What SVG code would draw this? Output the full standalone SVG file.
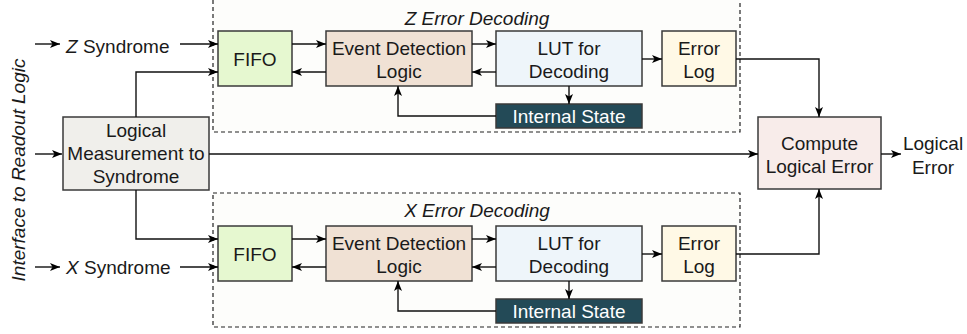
<svg xmlns="http://www.w3.org/2000/svg" width="967" height="334" viewBox="0 0 967 334">
<defs>
<marker id="ah" viewBox="0 0 10 8" refX="10" refY="4" markerWidth="10" markerHeight="8" markerUnits="userSpaceOnUse" orient="auto">
<path d="M0,0 L10,4 L0,8 L2.5,4 z" fill="#000"/>
</marker>
<style>
text{font-family:"Liberation Sans",Arial,sans-serif;font-size:19px;fill:#1a1a1a}
.c{text-anchor:middle}
.i{font-style:italic}
.box{stroke:#3a3a3a;stroke-width:1.5}
.grp{fill:#fdfdfb;stroke:#222;stroke-width:1.2;stroke-dasharray:4 3}
.ln{fill:none;stroke:#111;stroke-width:1.4}
.ar{fill:none;stroke:#111;stroke-width:1.4;marker-end:url(#ah)}
</style>
</defs>
<rect width="967" height="334" fill="#fff"/>

<g id="zgroup"><rect class="grp" x="213" y="-2" width="527" height="134"/><text class="c i" x="477" y="25">Z Error Decoding</text></g>
<g id="xgroup"><rect class="grp" x="213" y="193" width="527" height="134"/><text class="c i" x="477" y="217">X Error Decoding</text></g>

<g id="interface"><text class="c i" transform="translate(25,170) rotate(-90)">Interface to Readout Logic</text></g>
<g id="zsyn"><text x="66" y="53"><tspan font-style="italic">Z</tspan> Syndrome</text></g>
<g id="xsyn"><text x="66" y="274"><tspan font-style="italic">X</tspan> Syndrome</text></g>

<g id="lm"><rect class="box" x="63" y="117" width="146" height="73" fill="#f0efeb"/>
<text class="c" x="136" y="137">Logical</text><text class="c" x="136" y="160">Measurement to</text><text class="c" x="136" y="183">Syndrome</text></g>

<g id="zfifo"><rect class="box" x="218" y="31" width="74" height="55" fill="#e6f8d0"/><text class="c" x="255" y="66">FIFO</text></g>
<g id="zedl"><rect class="box" x="326" y="31" width="146" height="55" fill="#f0e1d4"/><text class="c" x="399" y="55">Event Detection</text><text class="c" x="399" y="78">Logic</text></g>
<g id="zlut"><rect class="box" x="496" y="31" width="146" height="55" fill="#eef5fa"/><text class="c" x="569" y="55">LUT for</text><text class="c" x="569" y="78">Decoding</text></g>
<g id="zlog"><rect class="box" x="662" y="31" width="74" height="55" fill="#fff9e6"/><text class="c" x="699" y="55">Error</text><text class="c" x="699" y="78">Log</text></g>
<g id="zstate"><rect class="box" x="496" y="104" width="146" height="24" fill="#234a57"/><text class="c" x="569" y="123" style="fill:#fff">Internal State</text></g>

<g id="xfifo"><rect class="box" x="218" y="226" width="74" height="55" fill="#e6f8d0"/><text class="c" x="255" y="261">FIFO</text></g>
<g id="xedl"><rect class="box" x="326" y="226" width="146" height="55" fill="#f0e1d4"/><text class="c" x="399" y="250">Event Detection</text><text class="c" x="399" y="273">Logic</text></g>
<g id="xlut"><rect class="box" x="496" y="226" width="146" height="55" fill="#eef5fa"/><text class="c" x="569" y="250">LUT for</text><text class="c" x="569" y="273">Decoding</text></g>
<g id="xlog"><rect class="box" x="662" y="226" width="74" height="55" fill="#fff9e6"/><text class="c" x="699" y="250">Error</text><text class="c" x="699" y="273">Log</text></g>
<g id="xstate"><rect class="box" x="496" y="299" width="146" height="24" fill="#234a57"/><text class="c" x="569" y="318" style="fill:#fff">Internal State</text></g>

<g id="compute"><rect class="box" x="758" y="117" width="123" height="72" fill="#f8ecea"/><text class="c" x="819.5" y="150">Compute</text><text class="c" x="819.5" y="173">Logical Error</text></g>
<g id="out"><text class="c" x="933" y="150">Logical</text><text class="c" x="933" y="174">Error</text></g>

<g id="connectors">
<path class="ar" d="M35,44 H60"/>
<path class="ar" d="M180,44 H218"/>
<path class="ar" d="M35,154 H62"/>
<path class="ar" d="M35,267 H60"/>
<path class="ar" d="M180,267 H218"/>
<path class="ar" d="M136,117 V72 H218"/>
<path class="ar" d="M136,190 V239 H218"/>
<path class="ar" d="M209,154 H758"/>
<path class="ar" d="M881,154 H901"/>

<path class="ar" d="M292,44 H326"/>
<path class="ar" d="M326,72 H292"/>
<path class="ar" d="M472,44 H496"/>
<path class="ar" d="M496,72 H472"/>
<path class="ar" d="M642,59 H662"/>
<path class="ar" d="M569,86 V104"/>
<path class="ar" d="M496,116 H398 V86"/>
<path class="ar" d="M736,59 H819 V117"/>

<path class="ar" d="M292,239 H326"/>
<path class="ar" d="M326,267 H292"/>
<path class="ar" d="M472,239 H496"/>
<path class="ar" d="M496,267 H472"/>
<path class="ar" d="M642,254 H662"/>
<path class="ar" d="M569,281 V299"/>
<path class="ar" d="M496,311 H398 V281"/>
<path class="ar" d="M736,254 H819 V189"/>
</g>
</svg>
